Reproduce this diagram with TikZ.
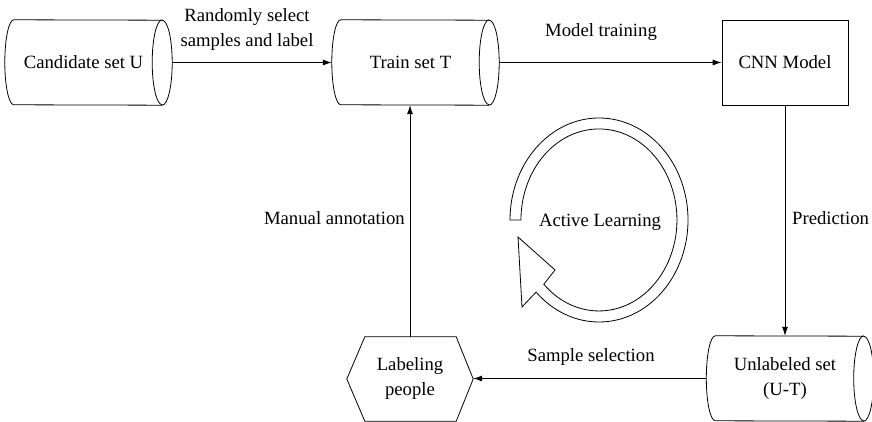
\documentclass[tikz,border=0pt]{standalone}
\usepackage{fontspec}
\setmainfont{Liberation Serif}
\usetikzlibrary{arrows.meta}
\tikzset{
  every node/.style={font=\fontsize{18.7}{25}\selectfont, inner sep=0pt},
  cylnode/.style={minimum width=167, minimum height=85},
  boxnode/.style={draw, line width=0.8pt, minimum width=126, minimum height=85},
  hexnode/.style={minimum width=126, minimum height=84, align=center},
  outline/.style={line width=0.8pt},
  conn/.style={line width=0.8pt, -{Latex[length=9pt,width=6pt]}},
  lbl/.style={align=center}
}
\newcommand\cylout[1]{%
  \draw[outline] ([xshift=9]#1.north west)
     arc[start angle=90, end angle=270, x radius=9, y radius=42.5]
     -- ([xshift=-10]#1.south east)
     arc[start angle=-90, end angle=90, x radius=10, y radius=42.5] -- cycle;
  \draw[outline] ([xshift=-10]#1.north east)
     arc[start angle=90, end angle=270, x radius=10, y radius=42.5];}
\begin{document}
\begin{tikzpicture}[x=1pt,y=1pt]
\useasboundingbox (0,0) rectangle (872,422);
% nodes
\node[cylnode] (cand) at (88.5,359.5) {\hspace*{-10pt}Candidate set U};
\node[cylnode] (train) at (415.5,359.5) {\hspace*{-10pt}Train set T};
\node[boxnode] (cnn) at (785,359.5) {CNN Model};
\node[cylnode, align=center] (unl) at (790,43.5) {\hspace*{-10pt}Unlabeled set\\\hspace*{-10pt}(U-T)};
\node[hexnode] (lab) at (410,43) {Labeling\\people};
\cylout{cand}
\cylout{train}
\cylout{unl}
\draw[outline] (lab.west) -- ([xshift=18]lab.north west) -- ([xshift=-17]lab.north east)
  -- (lab.east) -- ([xshift=-17]lab.south east) -- ([xshift=18]lab.south west) -- cycle;
% connectors
\draw[conn] (cand.east) -- (train.west);
\draw[conn] (train.east) -- (cnn.west);
\draw[conn] (cnn.south) -- (cnn.south |- unl.north);
\draw[conn] (unl.west) -- (unl.west -| lab.east);
\draw[conn] (lab.north) -- (lab.north |- train.south);
% labels
\node[lbl] (l1) at (247,392) {Randomly select\\samples and label};
\node[lbl] (l2) at (601,390) {Model training};
\node[lbl, anchor=west] (l3) at (792,204) {Prediction};
\node[lbl, anchor=east] (l4) at (405,204) {Manual annotation};
\node[lbl] (l5) at (591,65) {Sample selection};
% active learning cycle
\draw[outline] (510,202)
  arc[start angle=180, end angle=-135, x radius=89, y radius=102]
  -- (522,115) -- (518,185) -- (555,152) -- (543.8,137.7)
  arc[start angle=-135, end angle=180, x radius=78, y radius=91] -- cycle;
\node[lbl] (al) at (600,200) {Active Learning};
\end{tikzpicture}
\end{document}
